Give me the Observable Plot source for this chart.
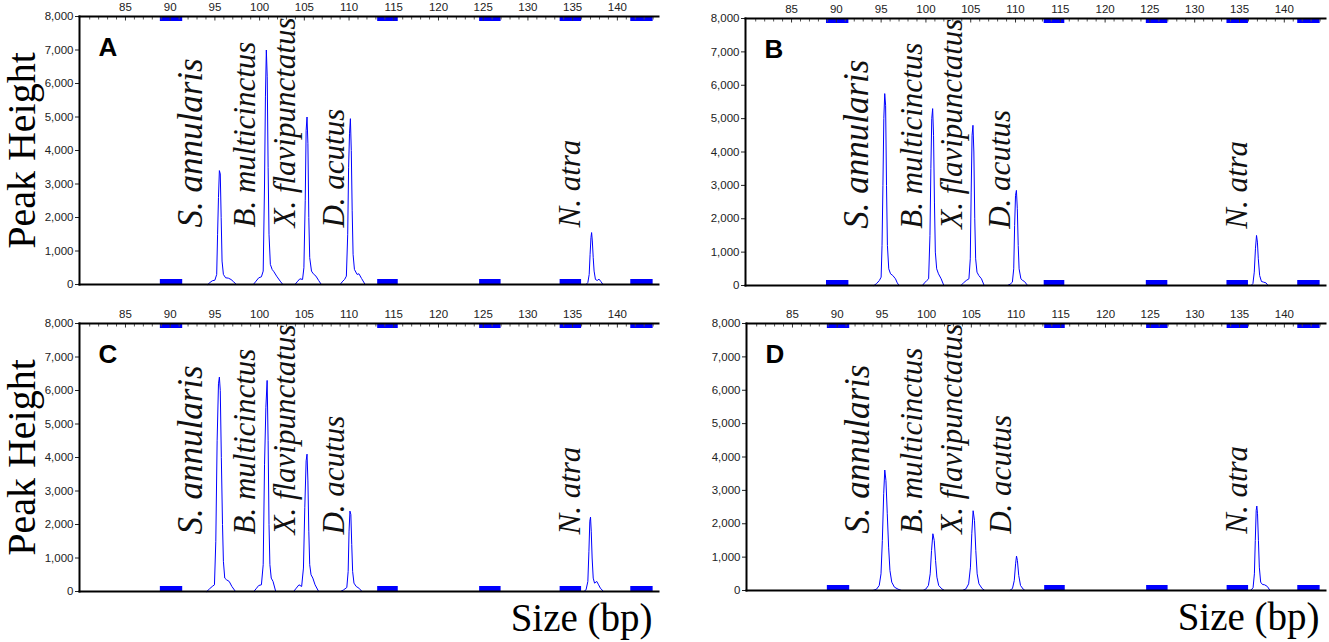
<!DOCTYPE html>
<html><head><meta charset="utf-8">
<script src="https://cdn.jsdelivr.net/npm/d3@7"></script>
<script src="https://cdn.jsdelivr.net/npm/@observablehq/plot@0.6"></script>
<style>
body{margin:0;background:#fff;}
#wrap{position:relative;width:1329px;height:642px;overflow:hidden;background:#fff;}
.panel{position:absolute;}
</style></head><body><div id="wrap"></div>
<script>
// ---- data ----
const sizeTicks = [85,90,95,100,105,110,115,120,125,130,135,140];
const sizeMinorTicks = [81,82,83,84,86,87,88,89,91,92,93,94,96,97,98,99,101,102,103,104,106,107,108,109,111,112,113,114,116,117,118,119,121,122,123,124,126,127,128,129,131,132,133,134,136,137,138,139,141,142,143,144];
const heightTicks = [0,1000,2000,3000,4000,5000,6000,7000,8000];
const binStarts = [88.9,113.2,124.6,133.6,141.5];
const binEnds   = [91.4,115.5,127.0,136.0,144.0];
const speciesNames = ["S. annularis","B. multicinctus","X. flavipunctatus","D. acutus","N. atra"];
const speciesLabelSize = [92.27,98.42,102.89,108.31,134.75];
const speciesLabelFont = [35,31,31,31,31];
const speciesLabelHeight = 1700;
const panelLetters = ["A","B","C","D"];
const yTitle = "Peak Height";
const xTitle = "Size (bp)";

// electropherogram traces: [size (bp), peak height (RFU)]
const traceA = [
 [94.2,0],[94.45,60],[94.7,110],[95.0,130],[95.2,300],[95.3,1500],[95.4,2600],[95.5,3400],[95.6,3300],[95.7,2000],[95.8,700],[95.95,300],[96.2,200],[96.5,190],[96.8,150],[97.1,80],[97.4,0],
 [99.3,0],[99.6,100],[99.9,200],[100.2,230],[100.4,400],[100.55,3000],[100.65,5600],[100.75,7000],[100.85,6200],[100.95,3500],[101.05,1500],[101.2,600],[101.4,450],[101.6,380],[101.9,250],[102.3,100],[102.6,0],
 [103.95,0],[104.2,80],[104.5,170],[104.8,150],[104.95,500],[105.1,2500],[105.2,4600],[105.3,5000],[105.4,4200],[105.5,2000],[105.6,800],[105.8,400],[106.0,320],[106.3,250],[106.6,120],[106.9,0],
 [109.0,0],[109.3,100],[109.5,150],[109.7,250],[109.85,1500],[109.95,3500],[110.05,4500],[110.15,4950],[110.25,4000],[110.35,2200],[110.45,900],[110.6,450],[110.9,300],[111.1,320],[111.4,180],[111.8,0],
 [136.5,0],[136.7,60],[136.85,300],[136.95,900],[137.05,1400],[137.12,1550],[137.2,1300],[137.3,800],[137.4,400],[137.55,150],[137.75,120],[137.95,160],[138.15,90],[138.4,0]
];
const traceB = [
 [94.2,0],[94.5,60],[94.8,150],[95.0,250],[95.1,1200],[95.2,3000],[95.3,5000],[95.4,5750],[95.5,5400],[95.6,3000],[95.7,1200],[95.85,500],[96.05,350],[96.3,300],[96.6,200],[96.8,80],[97.0,0],
 [99.6,0],[99.85,80],[100.1,150],[100.3,200],[100.45,1500],[100.55,3500],[100.65,5000],[100.75,5300],[100.85,4500],[100.95,2500],[101.05,1000],[101.2,500],[101.4,350],[101.7,200],[102.0,0],
 [103.9,0],[104.2,80],[104.5,150],[104.8,200],[104.95,800],[105.05,2800],[105.15,4500],[105.25,4800],[105.35,4000],[105.45,2000],[105.55,800],[105.7,400],[105.9,300],[106.2,200],[106.5,0],
 [109.1,0],[109.4,40],[109.65,100],[109.8,500],[109.9,1800],[110.0,2700],[110.1,2850],[110.2,2300],[110.3,1200],[110.4,500],[110.6,200],[110.8,150],[111.0,120],[111.35,0],
 [136.3,0],[136.5,60],[136.65,400],[136.78,1100],[136.9,1500],[137.0,1300],[137.1,800],[137.25,300],[137.45,120],[137.7,100],[137.95,80],[138.2,0]
];
const traceC = [
 [94.1,0],[94.4,80],[94.7,150],[94.95,200],[95.1,1500],[95.25,4500],[95.4,6200],[95.5,6400],[95.6,6000],[95.72,4000],[95.85,2000],[95.95,900],[96.1,400],[96.3,350],[96.6,300],[96.9,150],[97.3,0],
 [99.35,0],[99.6,80],[99.9,180],[100.2,200],[100.4,800],[100.55,3800],[100.7,5500],[100.84,6300],[100.95,4500],[101.05,2000],[101.15,800],[101.3,400],[101.5,300],[101.8,0],
 [103.8,0],[104.1,100],[104.4,200],[104.7,150],[104.9,700],[105.05,2500],[105.2,3900],[105.3,4100],[105.4,3300],[105.5,1800],[105.6,800],[105.75,500],[105.95,400],[106.2,200],[106.6,0],
 [109.05,0],[109.4,50],[109.75,120],[109.9,600],[110.0,1800],[110.1,2400],[110.2,2300],[110.3,1400],[110.4,600],[110.55,250],[110.8,150],[111.1,100],[111.45,0],
 [136.25,0],[136.5,50],[136.7,300],[136.82,1200],[136.92,2100],[137.0,2220],[137.08,1800],[137.18,1000],[137.3,400],[137.45,250],[137.7,300],[137.9,200],[138.1,100],[138.45,0]
];
const traceD = [
 [94.0,0],[94.4,40],[94.7,150],[94.9,500],[95.05,1500],[95.2,2900],[95.32,3610],[95.45,3300],[95.6,2300],[95.75,1300],[95.9,600],[96.1,250],[96.4,100],[96.8,40],[97.2,0],
 [99.6,0],[99.9,40],[100.2,150],[100.4,500],[100.55,1200],[100.7,1700],[100.85,1500],[101.0,900],[101.15,400],[101.35,150],[101.7,50],[102.0,0],
 [104.0,0],[104.4,50],[104.7,200],[104.9,700],[105.05,1700],[105.2,2390],[105.35,2100],[105.5,1200],[105.65,500],[105.85,200],[106.2,60],[106.5,0],
 [109.3,0],[109.6,60],[109.8,300],[109.95,800],[110.05,1030],[110.15,900],[110.3,450],[110.5,150],[110.8,40],[111.0,0],
 [136.2,0],[136.5,80],[136.65,500],[136.75,1500],[136.85,2400],[136.92,2530],[137.0,2300],[137.1,1500],[137.2,700],[137.35,250],[137.55,180],[137.8,170],[138.1,120],[138.4,0]
];
const traces = [traceA, traceB, traceC, traceD];

// ---- layout ----
const layouts = [
 {left:0,   top:0,   width:664, height:300, mt:16, mb:16, ml:79, mr:6, yTitle:true,  xTitle:false},
 {left:666, top:0,   width:663, height:300, mt:18, mb:15, ml:79, mr:4, yTitle:false, xTitle:false},
 {left:0,   top:300, width:664, height:342, mt:23, mb:51, ml:79, mr:6, yTitle:true,  xTitle:true},
 {left:666, top:300, width:663, height:342, mt:23, mb:52, ml:80, mr:4, yTitle:false, xTitle:true}
];

const serif = "'Liberation Serif','Times New Roman',Times,serif";
const sans = "'Liberation Sans',Arial,Helvetica,sans-serif";
const blue = "#0000ff";
const bins = binStarts.map((s,i)=>({s, e: binEnds[i]}));
const labels = speciesNames.map((name,i)=>({name, size: speciesLabelSize[i], font: speciesLabelFont[i]}));

const wrap = document.getElementById("wrap");
layouts.forEach((L, k) => {
  const fh = L.height - L.mt - L.mb;
  const marks = [
    Plot.rect(bins, {x1:"s", x2:"e", fill: blue, insetBottom: fh - 5}),
    Plot.rect(bins, {x1:"s", x2:"e", fill: blue, insetTop: fh - 5}),
    Plot.line(traces[k], {x: d=>d[0], y: d=>d[1], stroke: blue, strokeWidth: 1}),
    Plot.axisX(sizeMinorTicks, {anchor:"top", tickSize:-2.5, text:null, stroke:"#555"}),
    Plot.axisX(sizeTicks, {anchor:"top", tickSize:-3.5, tickPadding:9, stroke:"#333", fill:"#222", fontSize:11.5}),
    Plot.axisY(heightTicks, {anchor:"left", tickSize:4, tickPadding:2, tickFormat: d3.format(","), fill:"#222", fontSize:11.5}),
    Plot.frame({anchor:"top", stroke:"#000", strokeWidth:2}),
    Plot.frame({anchor:"left", stroke:"#000", strokeWidth:2}),
    Plot.frame({anchor:"bottom", stroke:"#000", strokeWidth:2})
  ];
  for (const lab of labels) {
    marks.push(Plot.text([lab], {x:"size", y:()=>speciesLabelHeight, text:"name", rotate:-90, textAnchor:"start", lineAnchor:"middle", fontFamily: serif, fontStyle:"italic", fontSize: lab.font, fill:"#111"}));
  }
  marks.push(Plot.text([panelLetters[k]], {frameAnchor:"top-left", textAnchor:"start", lineAnchor:"top", dx:19, dy:21, fontFamily: sans, fontWeight:"bold", fontSize:26, fill:"#000"}));
  if (L.yTitle) marks.push(Plot.text([yTitle], {frameAnchor:"left", rotate:-90, textAnchor:"middle", lineAnchor:"middle", dx:-57, fontFamily: serif, fontSize:40, fill:"#000"}));
  if (L.xTitle) marks.push(Plot.text([xTitle], {frameAnchor:"bottom-right", textAnchor:"end", lineAnchor:"bottom", dx:-6, dy:39, fontFamily: serif, fontSize:39, fill:"#000"}));
  const svg = Plot.plot({
    width: L.width, height: L.height,
    marginTop: L.mt, marginBottom: L.mb, marginLeft: L.ml, marginRight: L.mr,
    x: {domain:[79.86,144.6]},
    y: {domain:[0,8000]},
    style: {fontFamily: sans, fontSize:"11.5px", color:"#222", background:"transparent", overflow:"visible"},
    marks
  });
  const div = document.createElement("div");
  div.className = "panel";
  div.style.left = L.left + "px";
  div.style.top = L.top + "px";
  div.appendChild(svg);
  wrap.appendChild(div);
});
</script></body></html>
